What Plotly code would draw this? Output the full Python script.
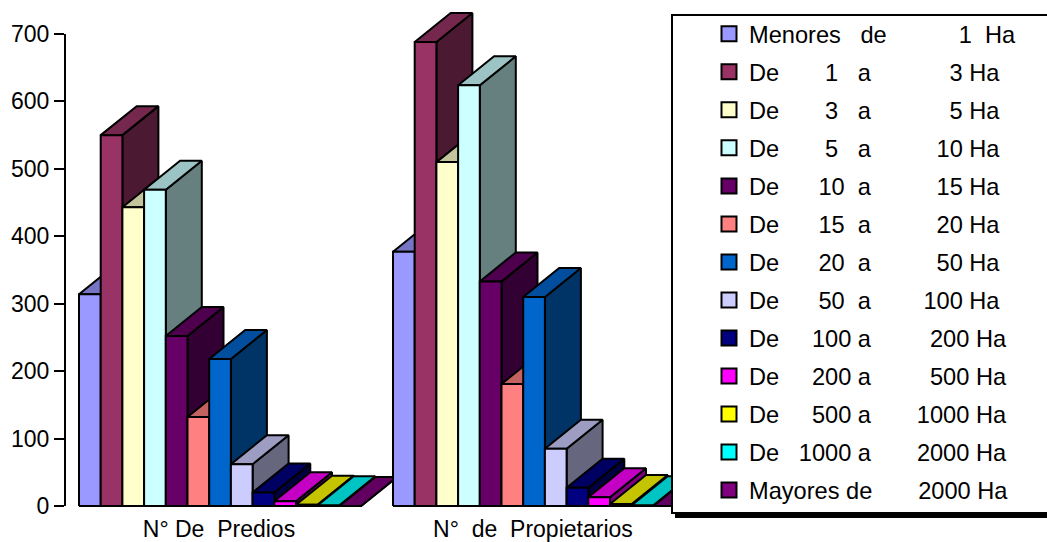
import plotly.graph_objects as go

NB = "\u00a0"

categories = ["N° De  Predios", "N°  de  Propietarios"]
ranges = [
    "Menores   de           1  Ha",
    "De       1   a            3 Ha",
    "De       3   a            5 Ha",
    "De       5   a          10 Ha",
    "De      10  a          15 Ha",
    "De      15  a          20 Ha",
    "De      20  a          50 Ha",
    "De      50  a        100 Ha",
    "De     100 a         200 Ha",
    "De     200 a         500 Ha",
    "De     500 a       1000 Ha",
    "De   1000 a       2000 Ha",
    "Mayores de       2000 Ha",
]
predios = [314, 550, 443, 469, 252, 132, 218, 62, 20, 7, 2, 1, 0]
propietarios = [377, 688, 510, 624, 333, 181, 310, 85, 27, 13, 3, 1, 0]
colors = ["#9999FF", "#993366", "#FFFFCC", "#CCFFFF", "#660066", "#FF8080", "#0066CC",
          "#CCCCFF", "#000080", "#FF00FF", "#FFFF00", "#00FFFF", "#800080"]
tick_values = [0, 100, 200, 300, 400, 500, 600, 700]
group_values = [predios, propietarios]
group_starts = [0, 14.47]

# scale and projected depth of the 3-D columns
BAR_PX = 21.7
PX_PER_UNIT = 472 / 700
DEPTH_X = 36 / BAR_PX
DEPTH_Y = 29 / PX_PER_UNIT
FONT = "Liberation Sans, Arial, sans-serif"
PLOT_L, PLOT_B = 65, 508
W, H = 1047, 542


def shade(hex_color, k):
    r, g, b = [int(hex_color[i:i + 2], 16) for i in (1, 3, 5)]
    return f"rgb({int(r * k)},{int(g * k)},{int(b * k)})"


def face(xs, ys, color):
    return go.Scatter(x=xs + xs[:1], y=ys + ys[:1], mode="lines", fill="toself", fillcolor=color,
                      line=dict(color="black", width=2), hoverinfo="skip", showlegend=False)


fig = go.Figure()
for start, values in zip(group_starts, group_values):
    for i, v in enumerate(values):
        x0, x1 = start + i, start + i + 1
        c = colors[i]
        fig.add_trace(face([x1, x1 + DEPTH_X, x1 + DEPTH_X, x1], [0, DEPTH_Y, v + DEPTH_Y, v], shade(c, 0.5)))
        fig.add_trace(face([x0, x1, x1 + DEPTH_X, x0 + DEPTH_X], [v, v, v + DEPTH_Y, v + DEPTH_Y], shade(c, 0.77)))
        fig.add_trace(face([x0, x1, x1, x0], [0, 0, v, v], c))

for i, (name, c) in enumerate(zip(ranges, colors)):
    fig.add_trace(go.Scatter(x=[None], y=[None], mode="markers", name=name.replace(" ", NB),
                             legendgroup=f"g{i}",
                             marker=dict(symbol="square", size=15, color=c, line=dict(color="black", width=2))))


def px(x):
    return (x - PLOT_L) / (W - PLOT_L)


def py(y):
    return (PLOT_B - y) / PLOT_B


fig.update_layout(
    width=W, height=H,
    margin=dict(l=PLOT_L, r=0, t=0, b=H - PLOT_B, autoexpand=False),
    paper_bgcolor="white", plot_bgcolor="white",
    font=dict(family=FONT, size=23, color="black"),
    xaxis=dict(range=[(PLOT_L - 79) / BAR_PX, (W - 79) / BAR_PX],
               tickvals=[s + 6.45 for s in group_starts],
               ticktext=[c.replace(" ", NB) for c in categories],
               showgrid=False, zeroline=False, showline=False, ticks="", tickangle=0,
               ticklabelstandoff=5, tickfont=dict(size=23)),
    yaxis=dict(range=[-2 / PX_PER_UNIT, 506 / PX_PER_UNIT], tickvals=tick_values,
               showgrid=False, zeroline=False, showline=False, ticks="outside", ticklen=10,
               tickwidth=2, tickcolor="black", tickfont=dict(size=23)),
    legend=dict(xref="container", yref="container", x=709 / W, y=1 - 12 / H, xanchor="left", yanchor="top",
                bgcolor="rgba(0,0,0,0)", borderwidth=0, tracegroupgap=4.33, font=dict(size=23.6), itemclick=False,
                maxheight=530),
    shapes=[
        dict(type="line", xref="paper", yref="y", x0=0, x1=0, y0=0, y1=700, line=dict(color="black", width=2)),
        dict(type="rect", xref="paper", yref="paper", x0=px(675), x1=px(1060), y0=py(20), y1=py(518),
             fillcolor="black", line=dict(width=0), layer="above"),
        dict(type="rect", xref="paper", yref="paper", x0=px(672), x1=px(1060), y0=py(15), y1=py(513),
             fillcolor="white", line=dict(color="black", width=2), layer="above"),
    ],
)

fig.write_html("out.html", config=dict(displayModeBar=False),
               post_script="document.body.style.margin='0';document.body.style.overflow='hidden';")
